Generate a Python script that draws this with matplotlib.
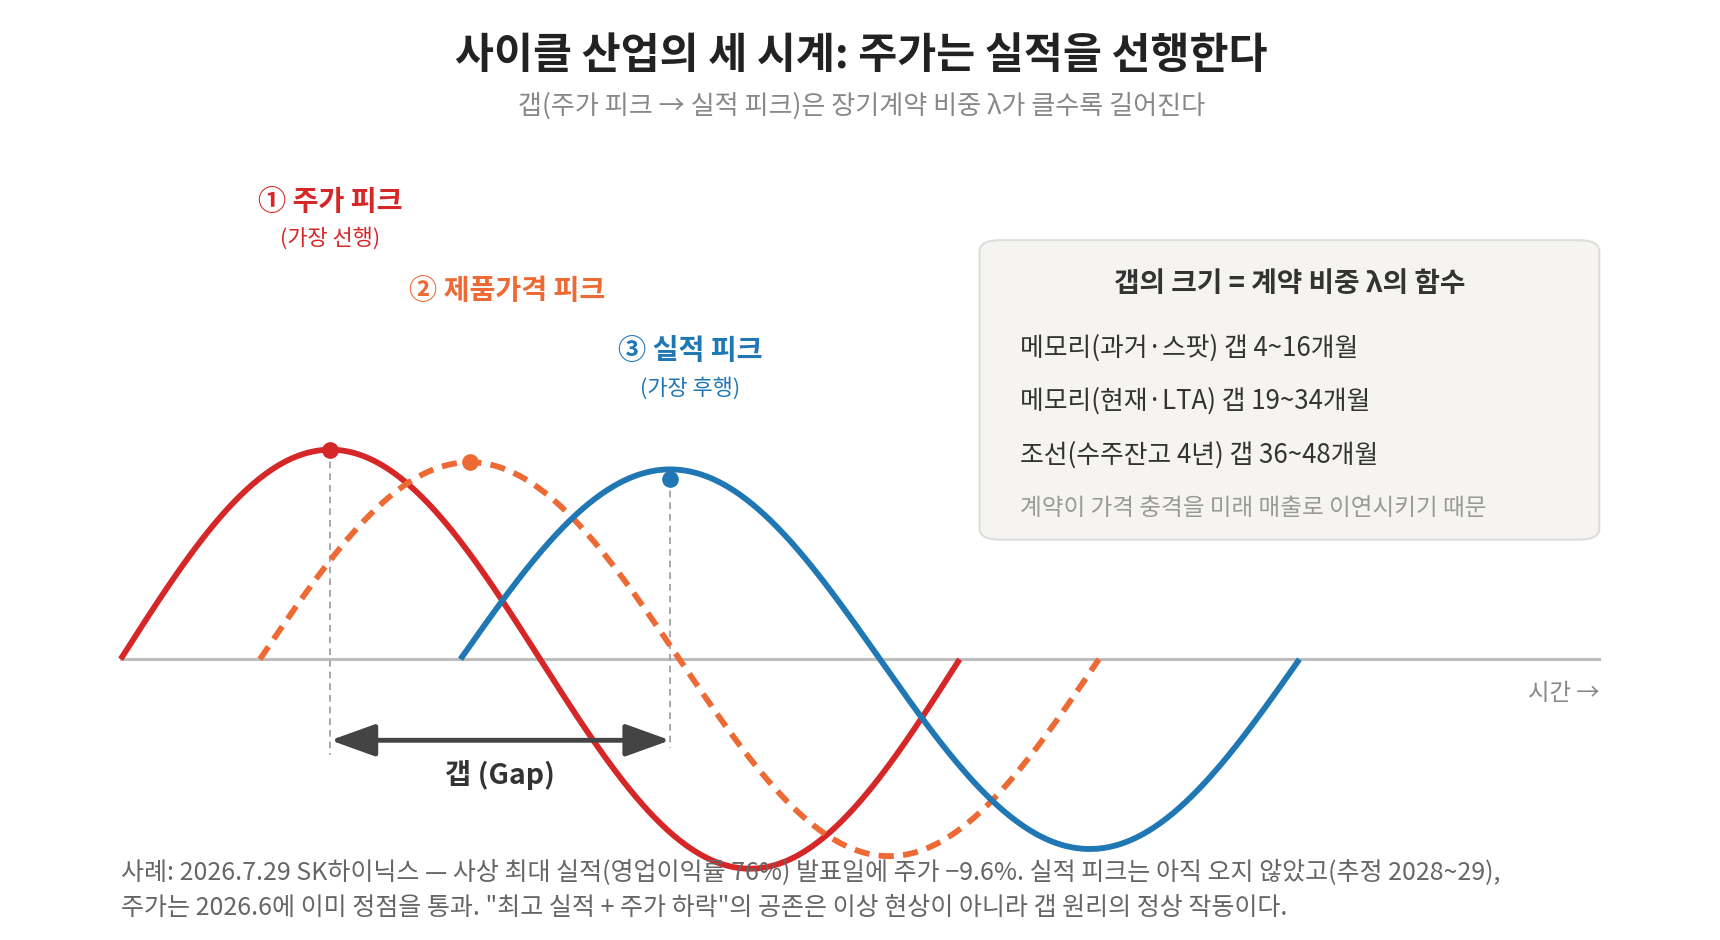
import numpy as np
import matplotlib
matplotlib.use("Agg")
import matplotlib.pyplot as plt
from matplotlib.patches import FancyBboxPatch, ArrowStyle

plt.rcParams['font.family'] = ['Noto Sans CJK KR', 'DejaVu Sans']

# --- data (time in quarter-cycles, level relative to red amplitude) ---
labels = ['① 주가 피크', '② 제품가격 피크', '③ 실적 피크']
sublabels = ['(가장 선행)', '', '(가장 후행)']
colors = ['#D62728', '#EE6A35', '#1F77B4']
styles = ['-', (0, (2.6, 1.6)), '-']
phase_shift = [0.0, 0.664, 1.62]
amplitude = [1.0, 0.94, 0.906]
marker_y = [1.0, 0.94, 0.86]
x_end = 7.05

box_title = '갭의 크기 = 계약 비중 λ의 함수'
box_lines = ['메모리(과거·스팟) 갭 4~16개월',
             '메모리(현재·LTA) 갭 19~34개월',
             '조선(수주잔고 4년) 갭 36~48개월']
box_note = '계약이 가격 충격을 미래 매출로 이연시키기 때문'
footnote = ['사례: 2026.7.29 SK하이닉스 — 사상 최대 실적(영업이익률 76%) 발표일에 주가 −9.6%. 실적 피크는 아직 오지 않았고(추정 2028~29),',
            '주가는 2026.6에 이미 정점을 통과. "최고 실적 + 주가 하락"의 공존은 이상 현상이 아니라 갭 원리의 정상 작동이다.']

W, H = 1568, 857  # layout frame


def fx(x):
    return x / W


def fy(y):
    return 1 - y / H


fig = plt.figure(figsize=(17.2, 9.4), dpi=100)
fig.patch.set_facecolor('white')

# axes: baseline at frame y=601, unit amplitude = 191 px
ax = fig.add_axes([fx(110), 0, fx(1458) - fx(110), 1])
ax.set_xlim(0, x_end)
ax.set_ylim(-(H - 601) / 191, 601 / 191)
ax.axis('off')

ax.plot([0, x_end], [0, 0], color='#BDBDBD', lw=2.2, zorder=1, clip_on=False)

for i in range(3):
    q = np.linspace(phase_shift[i], phase_shift[i] + 4, 400)
    y = amplitude[i] * np.sin(np.pi / 2 * (q - phase_shift[i]))
    ax.plot(q, y, color=colors[i], lw=4.2, linestyle=styles[i], zorder=3,
            solid_capstyle='butt', clip_on=False)
    ax.plot(phase_shift[i] + 1, marker_y[i], 'o', color=colors[i], ms=11, zorder=4)

# gap guides
red_peak = phase_shift[0] + 1
blue_peak = phase_shift[2] + 1
ax.plot([red_peak, red_peak], [marker_y[0], -0.455], color='#999999', lw=1.2,
        linestyle=(0, (4, 3)), zorder=2)
ax.plot([blue_peak, blue_peak], [marker_y[2], -0.424], color='#999999', lw=1.2,
        linestyle=(0, (4, 3)), zorder=2)
ax.annotate('', xy=(blue_peak, -0.387), xytext=(red_peak, -0.387),
            arrowprops=dict(arrowstyle=ArrowStyle('<|-|>', head_length=0.5, head_width=0.18),
                            mutation_scale=55, lw=3.5, color='#444444',
                            shrinkA=0, shrinkB=0), zorder=5)
ax.text((red_peak + blue_peak) / 2, -0.555, '갭 (Gap)', ha='center', va='center',
        fontsize=20.5, fontweight='bold', color='#333333', zorder=6)

# titles
fig.text(fx(785), fy(51), '사이클 산업의 세 시계: 주가는 실적을 선행한다', ha='center', va='center',
         fontsize=30.5, fontweight='bold', color='#222222')
fig.text(fx(785), fy(97), '갭(주가 피크 → 실적 피크)은 장기계약 비중 λ가 클수록 길어진다',
         ha='center', va='center', fontsize=18.8, color='#888888')

# peak labels
label_pos = [(301, 184, 217), (462, 265, None), (629, 320, 354)]
for i, (lx, ly, sy) in enumerate(label_pos):
    fig.text(fx(lx), fy(ly), labels[i], ha='center', va='center', fontsize=20.3,
             fontweight='bold', color=colors[i])
    if sy is not None:
        fig.text(fx(lx), fy(sy), sublabels[i], ha='center', va='center', fontsize=15.8,
                 color=colors[i])

fig.text(fx(1458), fy(632), '시간 →', ha='right', va='center', fontsize=16.8, color='#888888')

# info box
box = FancyBboxPatch((fx(893), fy(492)), fx(1458) - fx(893), fy(219) - fy(492),
                     boxstyle='round,pad=0,rounding_size=0.012', transform=fig.transFigure,
                     facecolor='#F5F4F0', edgecolor='#DDDDDD', lw=1.5, zorder=0)
fig.add_artist(box)
fig.text(fx(1176), fy(259), box_title, ha='center', va='center', fontsize=20,
         fontweight='bold', color='#333333')
for j, line in enumerate(box_lines):
    fig.text(fx(930), fy(317 + 49 * j), line, ha='left', va='center', fontsize=18.6,
             color='#333333')
fig.text(fx(930), fy(464), box_note, ha='left', va='center', fontsize=17, color='#999999')

# footnote
for j, line in enumerate(footnote):
    fig.text(fx(110), fy(796 + 32 * j), line, ha='left', va='center', fontsize=18,
             color='#666666', zorder=10)

fig.savefig('out.png', dpi=100, facecolor='white')
